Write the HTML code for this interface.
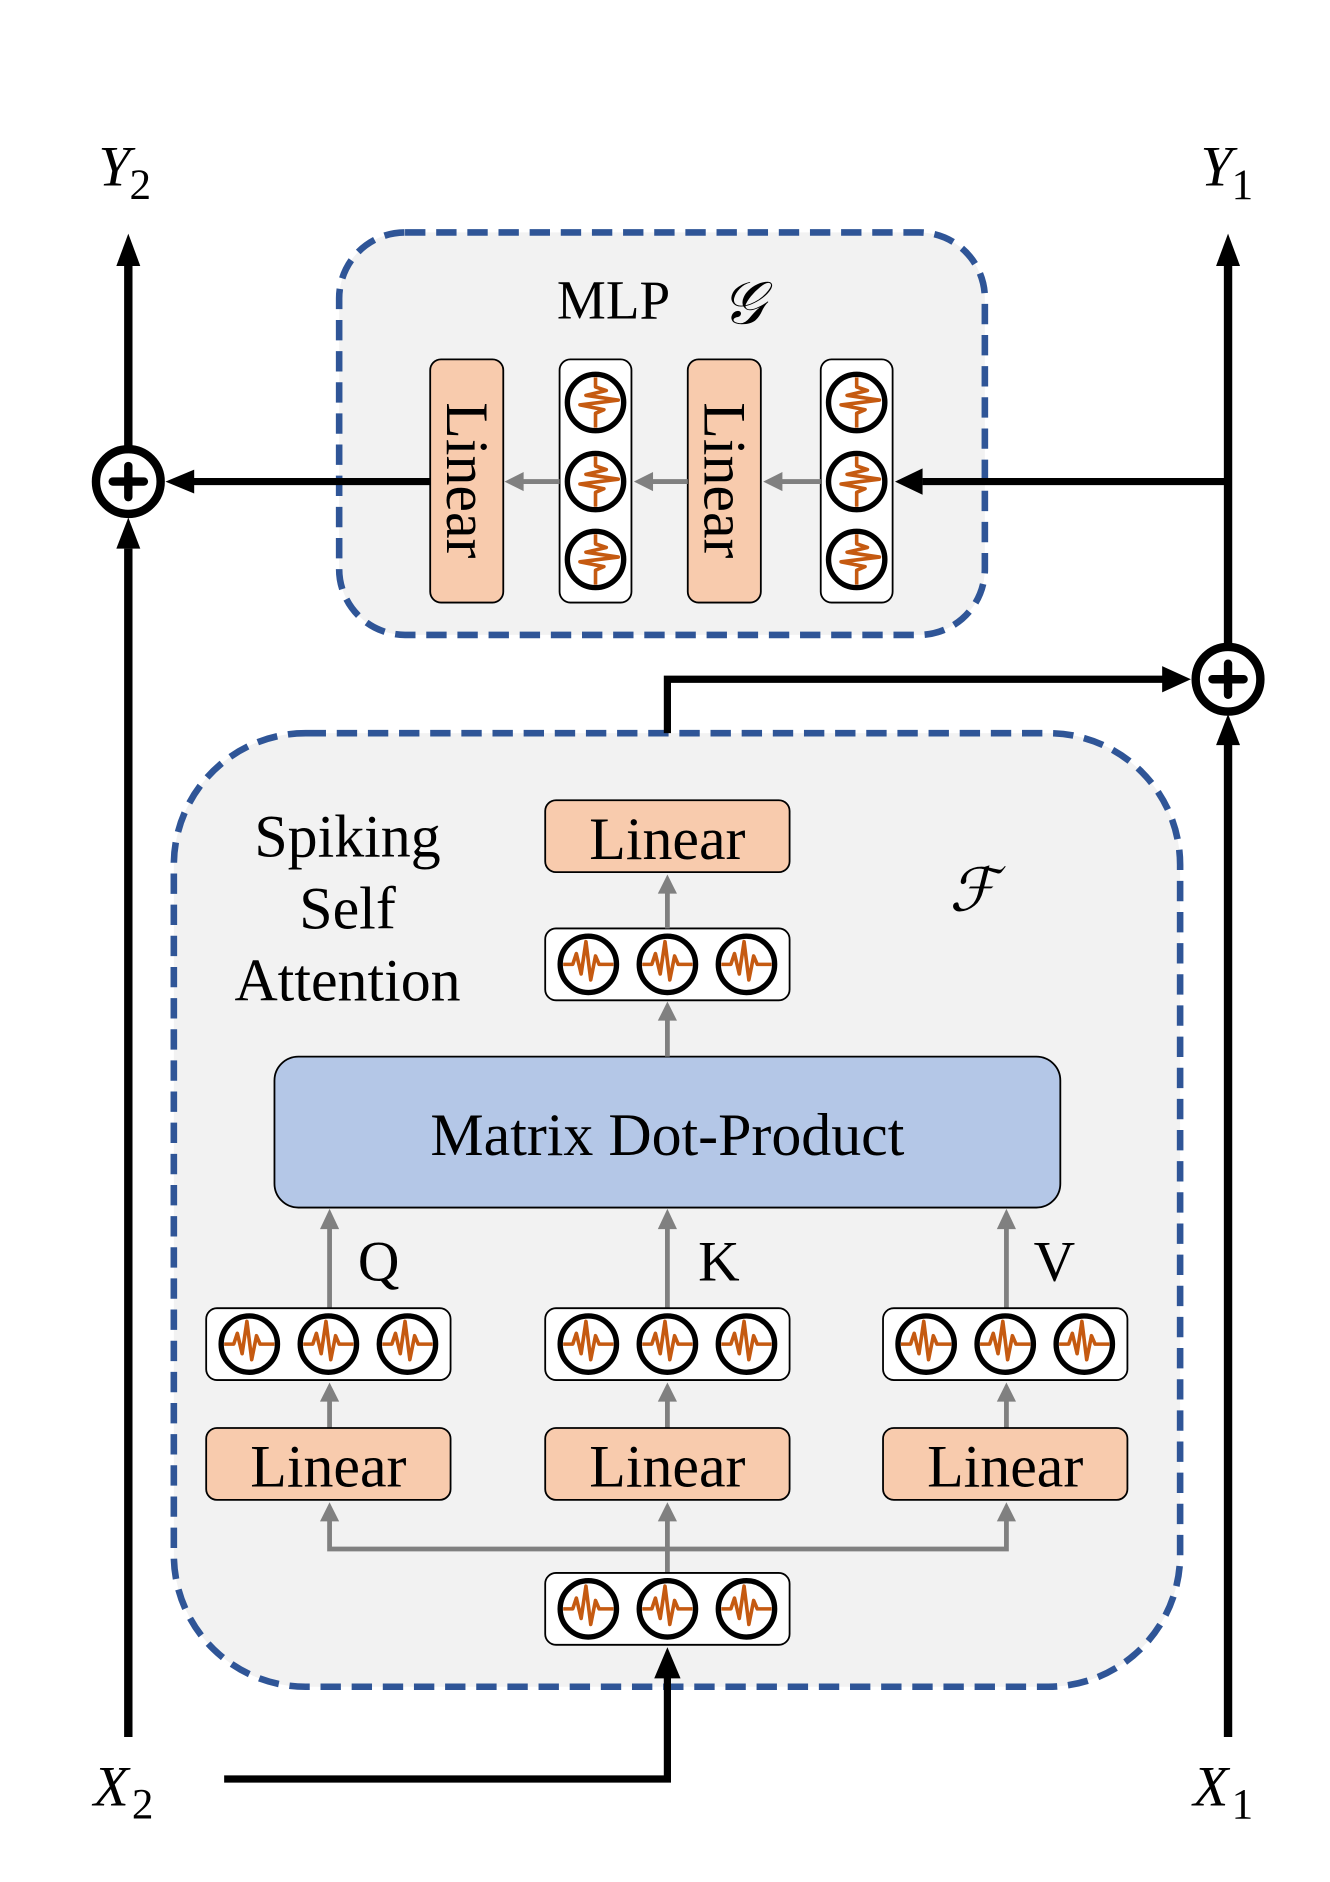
<!DOCTYPE html>
<html><head><meta charset="utf-8"><style>html,body{margin:0;padding:0;background:#fff}svg{display:block}</style></head>
<body>
<svg width="1330" height="1882" viewBox="0 0 1110 1571" xmlns="http://www.w3.org/2000/svg">
<defs>
<g id="sp">
<circle r="23.5" fill="none" stroke="#000" stroke-width="4.5"/>
<path d="M-21,0 H-13 L-10,-9 L-6,8 L-2,-19 L2,13 L6,-7 L9,0 H21" fill="none" stroke="#c55a11" stroke-width="3" stroke-linejoin="round"/>
</g>
</defs>
<style>
.t{font-family:"Liberation Serif",serif;fill:#000}
.m{font-family:"Liberation Serif",serif;font-style:italic;fill:#000}
</style>

<rect x="283" y="194" width="539" height="336" rx="55" fill="#f2f2f2" stroke="#2f5597" stroke-width="5.5" stroke-dasharray="17,9"/>
<rect x="145" y="612" width="840" height="796" rx="110" fill="#f2f2f2" stroke="#2f5597" stroke-width="5.5" stroke-dasharray="17,9"/>

<text class="m" x="82" y="155" font-size="48">Y</text><text class="t" x="108" y="166" font-size="36">2</text>
<text class="m" x="1002" y="155" font-size="48">Y</text><text class="t" x="1028" y="166" font-size="36">1</text>
<text class="m" x="78" y="1507" font-size="48">X</text><text class="t" x="110" y="1518" font-size="36">2</text>
<text class="m" x="996" y="1507" font-size="48">X</text><text class="t" x="1028" y="1518" font-size="36">1</text>

<line x1="107" y1="1450" x2="107" y2="458" stroke="#000" stroke-width="7"/>
<polygon points="107,432 97,458 117,458" fill="#000"/>
<line x1="107" y1="374" x2="107" y2="220" stroke="#000" stroke-width="7"/>
<polygon points="107,195 97,222 117,222" fill="#000"/>
<circle cx="107" cy="402" r="27" fill="#fff" stroke="#000" stroke-width="7"/>
<line x1="94" y1="402" x2="120" y2="402" stroke="#000" stroke-width="7" stroke-linecap="round"/>
<line x1="107" y1="389" x2="107" y2="415" stroke="#000" stroke-width="7" stroke-linecap="round"/>
<line x1="359" y1="402" x2="160" y2="402" stroke="#000" stroke-width="6"/>
<polygon points="138,402 162,392 162,412" fill="#000"/>

<line x1="1025" y1="1450" x2="1025" y2="620" stroke="#000" stroke-width="7"/>
<polygon points="1025,596 1015,622 1035,622" fill="#000"/>
<line x1="1025" y1="539" x2="1025" y2="220" stroke="#000" stroke-width="7"/>
<polygon points="1025,195 1015,222 1035,222" fill="#000"/>
<circle cx="1025" cy="567" r="27" fill="#fff" stroke="#000" stroke-width="7"/>
<line x1="1012" y1="567" x2="1038" y2="567" stroke="#000" stroke-width="7" stroke-linecap="round"/>
<line x1="1025" y1="554" x2="1025" y2="580" stroke="#000" stroke-width="7" stroke-linecap="round"/>
<line x1="1025" y1="402" x2="770" y2="402" stroke="#000" stroke-width="6"/>
<polygon points="747,402 770,391 770,413" fill="#000"/>
<polyline points="557,612 557,567 972,567" fill="none" stroke="#000" stroke-width="6"/>
<polygon points="994,567 970,556 970,578" fill="#000"/>

<polyline points="187,1485 557,1485 557,1400" fill="none" stroke="#000" stroke-width="6"/>
<polygon points="557,1375 546,1401 568,1401" fill="#000"/>

<text class="t" x="512" y="266" font-size="46" text-anchor="middle">MLP</text>
<text class="m" x="620" y="270" font-size="50" text-anchor="middle">𝒢</text>
<rect x="359" y="300" width="61" height="203" rx="9" fill="#f8cbad" stroke="#000" stroke-width="1.5"/>
<rect x="574" y="300" width="61" height="203" rx="9" fill="#f8cbad" stroke="#000" stroke-width="1.5"/>
<text class="t" font-size="50" transform="translate(373,401) rotate(90)" text-anchor="middle">Linear</text>
<text class="t" font-size="50" transform="translate(588,401) rotate(90)" text-anchor="middle">Linear</text>
<rect x="467" y="300" width="60" height="203" rx="9" fill="#fff" stroke="#000" stroke-width="1.5"/>
<rect x="685" y="300" width="60" height="203" rx="9" fill="#fff" stroke="#000" stroke-width="1.5"/>
<use href="#sp" transform="translate(497,336) rotate(90)"/>
<use href="#sp" transform="translate(497,402) rotate(90)"/>
<use href="#sp" transform="translate(497,467) rotate(90)"/>
<use href="#sp" transform="translate(715,336) rotate(90)"/>
<use href="#sp" transform="translate(715,402) rotate(90)"/>
<use href="#sp" transform="translate(715,467) rotate(90)"/>
<g stroke="#808080" stroke-width="4" fill="#808080">
<line x1="467" y1="402" x2="435" y2="402"/><polygon points="421,402 437,394 437,410" stroke="none"/>
<line x1="574" y1="402" x2="543" y2="402"/><polygon points="529,402 545,394 545,410" stroke="none"/>
<line x1="685" y1="402" x2="651" y2="402"/><polygon points="637,402 653,394 653,410" stroke="none"/>
</g>

<text class="t" x="290" y="715" font-size="50" text-anchor="middle">Spiking</text>
<text class="t" x="290" y="775" font-size="50" text-anchor="middle">Self</text>
<text class="t" x="290" y="835" font-size="50" text-anchor="middle">Attention</text>
<text class="m" x="812" y="760" font-size="50" text-anchor="middle">ℱ</text>

<rect x="455" y="668" width="204" height="60" rx="9" fill="#f8cbad" stroke="#000" stroke-width="1.5"/>
<text class="t" x="557" y="717" font-size="50" text-anchor="middle">Linear</text>
<rect x="455" y="775" width="204" height="60" rx="9" fill="#fff" stroke="#000" stroke-width="1.5"/>
<use href="#sp" x="491" y="805"/><use href="#sp" x="557" y="805"/><use href="#sp" x="623" y="805"/>

<rect x="229" y="882" width="656" height="126" rx="20" fill="#b4c7e7" stroke="#000" stroke-width="1.5"/>
<text class="t" x="557" y="964" font-size="50" text-anchor="middle">Matrix Dot-Product</text>

<g stroke="#808080" stroke-width="4" fill="#808080">
<line x1="557" y1="882" x2="557" y2="850"/><polygon points="557,836 549,852 565,852" stroke="none"/>
<line x1="557" y1="775" x2="557" y2="744"/><polygon points="557,730 549,746 565,746" stroke="none"/>
<line x1="275" y1="1092" x2="275" y2="1024"/><polygon points="275,1009 267,1026 283,1026" stroke="none"/>
<line x1="557" y1="1092" x2="557" y2="1024"/><polygon points="557,1009 549,1026 565,1026" stroke="none"/>
<line x1="840" y1="1092" x2="840" y2="1024"/><polygon points="840,1009 832,1026 848,1026" stroke="none"/>
<line x1="275" y1="1192" x2="275" y2="1168"/><polygon points="275,1154 267,1170 283,1170" stroke="none"/>
<line x1="557" y1="1192" x2="557" y2="1168"/><polygon points="557,1154 549,1170 565,1170" stroke="none"/>
<line x1="840" y1="1192" x2="840" y2="1168"/><polygon points="840,1154 832,1170 848,1170" stroke="none"/>
<polyline points="275,1268 275,1293 840,1293 840,1268" fill="none"/>
<line x1="557" y1="1313" x2="557" y2="1268"/>
<polygon points="275,1254 267,1270 283,1270" stroke="none"/>
<polygon points="557,1254 549,1270 565,1270" stroke="none"/>
<polygon points="840,1254 832,1270 848,1270" stroke="none"/>
</g>
<text class="t" x="316" y="1069" font-size="48" text-anchor="middle">Q</text>
<text class="t" x="600" y="1069" font-size="48" text-anchor="middle">K</text>
<text class="t" x="880" y="1069" font-size="48" text-anchor="middle">V</text>

<rect x="172" y="1092" width="204" height="60" rx="9" fill="#fff" stroke="#000" stroke-width="1.5"/>
<rect x="455" y="1092" width="204" height="60" rx="9" fill="#fff" stroke="#000" stroke-width="1.5"/>
<rect x="737" y="1092" width="204" height="60" rx="9" fill="#fff" stroke="#000" stroke-width="1.5"/>
<use href="#sp" x="208" y="1122"/><use href="#sp" x="274" y="1122"/><use href="#sp" x="340" y="1122"/>
<use href="#sp" x="491" y="1122"/><use href="#sp" x="557" y="1122"/><use href="#sp" x="623" y="1122"/>
<use href="#sp" x="773" y="1122"/><use href="#sp" x="839" y="1122"/><use href="#sp" x="905" y="1122"/>

<rect x="172" y="1192" width="204" height="60" rx="9" fill="#f8cbad" stroke="#000" stroke-width="1.5"/>
<rect x="455" y="1192" width="204" height="60" rx="9" fill="#f8cbad" stroke="#000" stroke-width="1.5"/>
<rect x="737" y="1192" width="204" height="60" rx="9" fill="#f8cbad" stroke="#000" stroke-width="1.5"/>
<text class="t" x="274" y="1241" font-size="50" text-anchor="middle">Linear</text>
<text class="t" x="557" y="1241" font-size="50" text-anchor="middle">Linear</text>
<text class="t" x="839" y="1241" font-size="50" text-anchor="middle">Linear</text>

<rect x="455" y="1313" width="204" height="60" rx="9" fill="#fff" stroke="#000" stroke-width="1.5"/>
<use href="#sp" x="491" y="1343"/><use href="#sp" x="557" y="1343"/><use href="#sp" x="623" y="1343"/>
</svg>
</body></html>
